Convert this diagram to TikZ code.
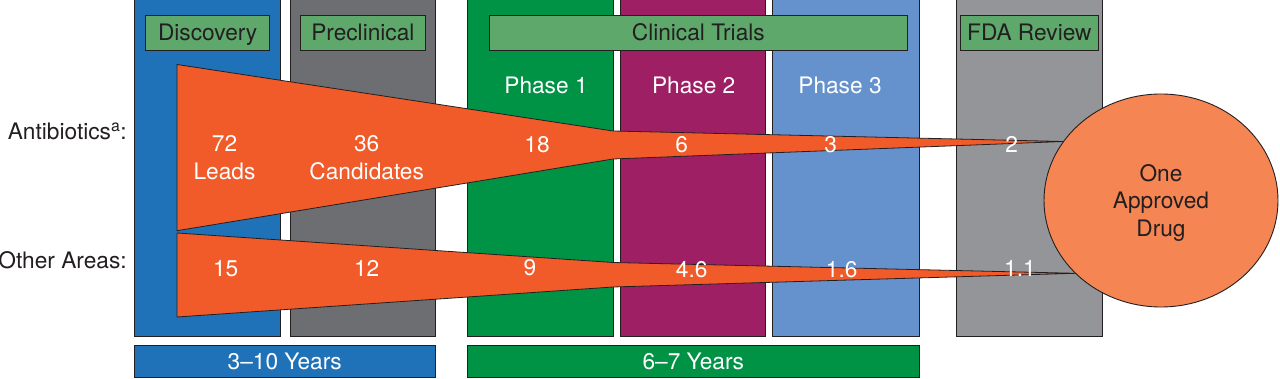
\documentclass[tikz,border=0pt]{standalone}
\usepackage{fontspec}
\setmainfont{TeX Gyre Heros}
\usetikzlibrary{shapes.geometric}
\definecolor{discblue}{RGB}{31,114,184}
\definecolor{pregray}{RGB}{109,110,113}
\definecolor{pIgreen}{RGB}{0,147,69}
\definecolor{pIIpurple}{RGB}{158,31,99}
\definecolor{pIIIblue}{RGB}{101,146,205}
\definecolor{fdagray}{RGB}{147,149,152}
\definecolor{labgreen}{RGB}{95,168,108}
\definecolor{funnelor}{RGB}{241,90,41}
\definecolor{drugor}{RGB}{245,134,84}
\definecolor{ink}{RGB}{35,31,32}
\begin{document}
\begin{tikzpicture}[x=1pt,y=-1pt,
  every node/.style={font=\fontsize{22.7}{27.5}\selectfont, inner sep=0pt, outer sep=0pt, text=ink},
  colbox/.style={draw=ink, line width=0.9pt, minimum height=338pt, minimum width=#1},
  labbox/.style={draw=ink, line width=0.9pt, fill=labgreen, minimum height=35.7pt, minimum width=#1, text height=16.3pt, text depth=0pt},
  yearbox/.style={draw=ink, line width=0.9pt, minimum height=32pt, minimum width=#1, text=white, text height=16.3pt, text depth=0pt},
  wtext/.style={text=white, text height=16.3pt, text depth=0pt},
  wmulti/.style={text=white, align=center, text depth=0pt},
  rowlab/.style={anchor=east, text height=16.3pt, text depth=0pt},
  funnelshape/.style={fill=funnelor, draw=ink, line width=0.8pt, line join=miter}
]
\useasboundingbox (0,0) rectangle (1280,379);
% columns
\node[colbox=146pt, fill=discblue] (disc) at (207.5,167) {};
\node[colbox=144.5pt, fill=pregray] (pre) at (362.75,167) {};
\node[colbox=146.4pt, fill=pIgreen] (ph1) at (540.5,167) {};
\node[colbox=145.2pt, fill=pIIpurple] (ph2) at (693.1,167) {};
\node[colbox=146.6pt, fill=pIIIblue] (ph3) at (846,167) {};
\node[colbox=145.6pt, fill=fdagray] (fda) at (1029.5,167) {};
% stage labels
\node[labbox=124pt] (ldisc) at (207.7,32.85) {Discovery};
\node[labbox=125.7pt] (lpre) at (362.85,32.85) {Preclinical};
\node[labbox=418pt] (lclin) at (698.3,32.85) {Clinical Trials};
\node[labbox=137.3pt] (lfda) at (1029.35,32.85) {FDA Review};
% phase labels
\node[wtext] (tph1) at (546,85) {Phase 1};
\node[wtext] (tph2) at (693.7,85) {Phase 2};
\node[wtext] (tph3) at (840,85) {Phase 3};
% year bars
\node[yearbox=300.5pt, fill=discblue] (y1) at (284.75,361.7) {3–10 Years};
\node[yearbox=452pt, fill=pIgreen] (y2) at (693.3,361.7) {6–7 Years};
% row labels
\node[rowlab] (rab) at (126.7,131) {Antibiotics\textsuperscript{a}:};
\node[rowlab] (roth) at (126.7,260) {Other Areas:};
% funnels
\draw[funnelshape] (177,64.5) -- (613,131) -- (1063.5,141.5) -- (613,159) -- (177,230.7) -- cycle;
\draw[funnelshape] (177,233) -- (613,262.5) -- (1075.5,273.3) -- (613,287) -- (177,317) -- cycle;
% antibiotic numbers
\node[wmulti] (n72) at (224.5,157.7) {72\\Leads};
\node[wmulti] (n36) at (366.7,157.7) {36\\Candidates};
\node[wtext] (n18) at (537,144.5) {18};
\node[wtext] (n6) at (681.7,144.5) {6};
\node[wtext] (n3) at (830.7,144) {3};
\node[wtext] (n2) at (1011.7,144) {2};
% other numbers
\node[wtext] (n15) at (225.7,268) {15};
\node[wtext] (n12) at (366.7,268) {12};
\node[wtext] (n9) at (530,267.5) {9};
\node[wtext] (n46) at (691.7,269) {4.6};
\node[wtext] (n16) at (841.7,269) {1.6};
\node[wtext] (n11) at (1020,268) {1.1};
% approved drug
\node[ellipse, draw=ink, line width=0.9pt, fill=drugor, minimum width=234pt, minimum height=213pt, align=center, text depth=0pt] (drug) at (1161,200.5) {One\\Approved\\Drug};
\end{tikzpicture}
\end{document}
